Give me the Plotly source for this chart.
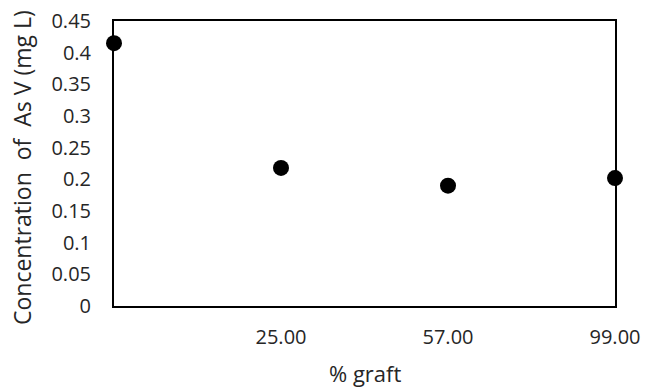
import plotly.graph_objects as go

categories = ["", "25.00", "57.00", "99.00"]
concentration = [0.415, 0.218, 0.190, 0.202]
y_ticks = [0, 0.05, 0.1, 0.15, 0.2, 0.25, 0.3, 0.35, 0.4, 0.45]
y_ticktext = ["0", "0.05", "0.1", "0.15", "0.2", "0.25", "0.3", "0.35", "0.4", "0.45"]
x_title = "% graft"
y_title = "Concentration  of  As V (mg L)"

xpos = list(range(len(categories)))

font = "Open Sans, sans-serif"
W, H = 646, 387
ML, MR, MT, MB = 114, 31, 21, 81
PW, PH = W - ML - MR, H - MT - MB

fig = go.Figure(go.Scatter(
    x=xpos, y=concentration, mode="markers",
    marker=dict(color="black", size=16),
    cliponaxis=False, showlegend=False,
))

fig.update_layout(
    template="none",
    width=W, height=H,
    margin=dict(l=ML, r=MR, t=MT, b=MB),
    plot_bgcolor="white", paper_bgcolor="white",
    font=dict(family=font, size=20, color="#262626"),
)
fig.update_xaxes(
    automargin=False,
    range=[0, 3], tickvals=xpos, ticktext=categories,
    showgrid=False, zeroline=False,
    showline=True, linecolor="black", linewidth=2, mirror=True,
    ticks="", ticklabelstandoff=12,
)
fig.update_yaxes(
    automargin=False,
    range=[0, 0.45], tickvals=y_ticks, ticktext=y_ticktext,
    showgrid=False, zeroline=False,
    showline=True, linecolor="black", linewidth=2, mirror=True,
    ticks="", ticklabelstandoff=17,
)
fig.add_annotation(
    text=x_title, xref="paper", yref="paper",
    x=0.5, y=-(373 - (H - MB)) / PH, xanchor="center", yanchor="middle",
    showarrow=False, font=dict(size=22),
)
fig.add_annotation(
    text=y_title, xref="paper", yref="paper",
    x=-(ML - 22) / PW, y=(H - MB - 168) / PH, xanchor="center", yanchor="middle",
    textangle=-90, showarrow=False, font=dict(size=23),
)

fig.write_html("out.html")
